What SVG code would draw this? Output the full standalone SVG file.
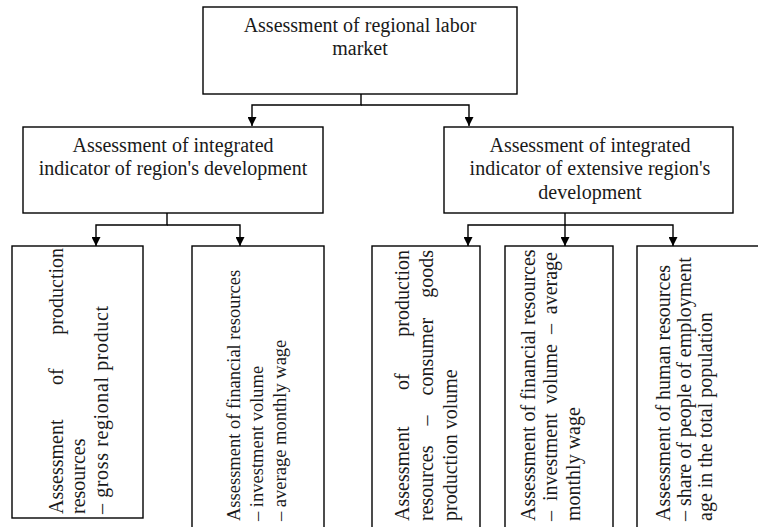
<svg xmlns="http://www.w3.org/2000/svg" width="758" height="527" viewBox="0 0 758 527">
  <style>
    .box { fill: #fff; stroke: #000; stroke-width: 1.4; }
    .lbl { font-family: "Liberation Serif", "Times New Roman", serif; font-size: 20px; fill: #1a1a1a; }
    .sm { font-size: 18.5px; }
    .ctr { text-anchor: middle; }
    .end { text-anchor: end; }
    .conn { fill: none; stroke: #000; stroke-width: 1.4; marker-end: url(#arrow); }
  </style>
  <defs>
    <marker id="arrow" viewBox="0 0 10 10" refX="10" refY="5" markerWidth="11" markerHeight="9" orient="auto" markerUnits="userSpaceOnUse">
      <path d="M0,0 L10,5 L0,10 z" fill="#000"/>
    </marker>
  </defs>
  <rect width="758" height="527" fill="#fff"/>

  <g id="connectors">
    <path class="conn" d="M361,94 V105 H252 V126"/>
    <path class="conn" d="M361,105 H469 V126"/>
    <path class="conn" d="M167,213 V225 H96 V246"/>
    <path class="conn" d="M167,225 H240 V246"/>
    <path class="conn" d="M565,213 V246"/>
    <path class="conn" d="M565,225 H468 V246"/>
    <path class="conn" d="M565,225 H673 V246"/>
  </g>

  <g id="labor-market">
    <rect class="box" x="203" y="7" width="314" height="87"/>
    <text class="lbl ctr" x="360" y="32">Assessment of regional labor</text>
    <text class="lbl ctr" x="360" y="55">market</text>
  </g>

  <g id="integrated-indicator">
    <rect class="box" x="23" y="127" width="300" height="86"/>
    <text class="lbl ctr" x="173" y="152">Assessment of integrated</text>
    <text class="lbl ctr" x="173" y="175">indicator of region's development</text>
  </g>

  <g id="extensive-indicator">
    <rect class="box" x="444" y="127" width="289" height="86"/>
    <text class="lbl ctr" x="590" y="152">Assessment of integrated</text>
    <text class="lbl ctr" x="590" y="175">indicator of extensive region's</text>
    <text class="lbl ctr" x="590" y="199">development</text>
  </g>

  <!-- vertical boxes: text is rotated so it reads bottom to top;
       in the rotated frame x = -(page y), y = page x -->
  <g id="production-grp">
    <rect class="box" x="12" y="246" width="131" height="272"/>
    <g transform="rotate(-90)">
      <text class="lbl" x="-514" y="63">Assessment</text>
      <text class="lbl" x="-385" y="63">of</text>
      <text class="lbl end" x="-248" y="63">production</text>
      <text class="lbl" x="-514" y="85">resources</text>
      <text class="lbl" x="-514" y="108" textLength="208" lengthAdjust="spacing">– gross regional product</text>
    </g>
  </g>

  <g id="financial-1">
    <rect class="box" x="192" y="246" width="132" height="292"/>
    <g transform="rotate(-90)">
      <text class="lbl sm" x="-521" y="240">Assessment of financial resources</text>
      <text class="lbl sm" x="-521" y="263">– investment volume</text>
      <text class="lbl sm" x="-521" y="286">– average monthly wage</text>
    </g>
  </g>

  <g id="production-consumer">
    <rect class="box" x="372" y="246" width="108" height="292"/>
    <g transform="rotate(-90)">
      <text class="lbl" x="-521" y="409">Assessment</text>
      <text class="lbl" x="-390" y="409">of</text>
      <text class="lbl end" x="-250" y="409">production</text>
      <text class="lbl" x="-521" y="433">resources</text>
      <text class="lbl" x="-425.5" y="433">–</text>
      <text class="lbl" x="-395.5" y="433">consumer</text>
      <text class="lbl end" x="-250" y="433">goods</text>
      <text class="lbl" x="-521" y="457">production volume</text>
    </g>
  </g>

  <g id="financial-2">
    <rect class="box" x="505" y="246" width="108" height="292"/>
    <g transform="rotate(-90)">
      <text class="lbl" x="-521" y="535">Assessment of financial resources</text>
      <text class="lbl" x="-521" y="557">–</text>
      <text class="lbl" x="-501" y="557">investment</text>
      <text class="lbl" x="-404" y="557">volume</text>
      <text class="lbl" x="-334" y="557">–</text>
      <text class="lbl end" x="-252" y="557">average</text>
      <text class="lbl" x="-521" y="580">monthly wage</text>
    </g>
  </g>

  <g id="human">
    <rect class="box" x="637" y="246" width="130" height="292"/>
    <g transform="rotate(-90)">
      <text class="lbl" x="-521" y="670">Assessment of human resources</text>
      <text class="lbl" x="-521" y="691">– share of people of employment</text>
      <text class="lbl" x="-521" y="712">age in the total population</text>
    </g>
  </g>
</svg>
